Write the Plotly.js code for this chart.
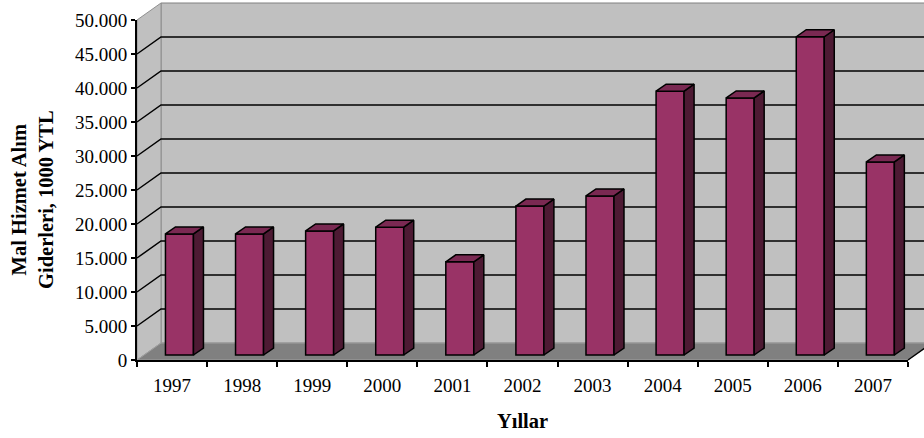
<!DOCTYPE html>
<html><head><meta charset="utf-8">
<script src="https://cdn.plot.ly/plotly-3.0.1.min.js"></script>
<style>html,body{margin:0;padding:0;background:#fff;overflow:hidden}</style>
</head><body><div id="chart" style="width:924px;height:438px"></div>
<script>
const categories = ["1997","1998","1999","2000","2001","2002","2003","2004","2005","2006","2007"];
const giderler = [17800,17800,18250,18800,13700,21900,23400,38800,37800,46800,28400];
const yTickValues = [0,5000,10000,15000,20000,25000,30000,35000,40000,45000,50000];
const yTickLabels = ["0","5.000","10.000","15.000","20.000","25.000","30.000","35.000","40.000","45.000","50.000"];
const xTitle = "Yıllar";
const yTitle = "Mal Hizmet Alım<br>Giderleri, 1000 YTL";

const M = {l:137, r:16, t:20, b:78};
const W = 924, H = 438;
const plotW = W-M.l-M.r, plotH = H-M.t-M.b;
const unitX = plotW/categories.length;      // px per category
const unitY = plotH/50000;                  // px per value unit
const wallDX = 24, wallDY = 17;             // depth of the back wall, px
const barDX = 10, barDY = 7;                // depth of one bar, px
const barBase = 5/unitY;
const barLeft = -6.6/unitX, barW = 28/unitX;
const px = x => (x-M.l)/plotW;
const py = y => (H-M.b-y)/plotH;
const vy = v => H-M.b-v*unitY;
const poly = pts => "M"+pts.map(p=>px(p[0])+","+py(p[1])).join("L")+"Z";
const x0=M.l, x1=W-M.r, y0=vy(0), yT=vy(50000);

const shapes = [
 {type:"path",xref:"paper",yref:"paper",layer:"below",path:poly([[x0+wallDX,yT-wallDY],[x1+wallDX,yT-wallDY],[x1+wallDX,y0-wallDY],[x0+wallDX,y0-wallDY]]),fillcolor:"#C0C0C0",line:{color:"#808080",width:1}},
 {type:"path",xref:"paper",yref:"paper",layer:"below",path:poly([[x0,yT],[x0+wallDX,yT-wallDY],[x0+wallDX,y0-wallDY],[x0,y0]]),fillcolor:"#C0C0C0",line:{color:"#909090",width:1}},
 {type:"path",xref:"paper",yref:"paper",layer:"below",path:poly([[x0,y0],[x0+wallDX,y0-wallDY],[x1+wallDX,y0-wallDY],[x1,y0]]),fillcolor:"#808080",line:{color:"#A0A0A0",width:1}}
];
yTickValues.slice(1,-1).forEach(v=>{
  const y=vy(v);
  shapes.push({type:"path",xref:"paper",yref:"paper",layer:"below",
    path:"M"+px(x0)+","+py(y)+"L"+px(x0+wallDX)+","+py(y-wallDY)+"L"+px(x1+wallDX)+","+py(y-wallDY),
    line:{color:"#000",width:1.5}});
});
shapes.push({type:"path",xref:"paper",yref:"paper",layer:"below",
    path:"M"+px(x1)+","+py(y0)+"L"+px(x1+wallDX)+","+py(y0-wallDY),line:{color:"#000",width:1.5}});

const idx = categories.map((_,i)=>i);
const edges = [-0.5].concat(idx.map(i=>i+0.5));
const dx = barDX/unitX, dy = barDY/unitY;
const traces = [{type:"bar",x:idx,y:giderler,base:idx.map(()=>barBase),width:barW,offset:barLeft,
  marker:{color:"#993366",line:{color:"#000",width:1.5}},hoverinfo:"skip",showlegend:false}];
giderler.forEach((v,i)=>{
  const L=i+barLeft, R=L+barW, B=barBase, T=barBase+v;
  traces.push({type:"scatter",mode:"lines",x:[R,R+dx,R+dx,R,R],y:[B,B+dy,T+dy,T,B],fill:"toself",fillcolor:"#4D1A33",
    line:{color:"#000",width:1.5},cliponaxis:false,hoverinfo:"skip",showlegend:false});
  traces.push({type:"scatter",mode:"lines",x:[L,L+dx,R+dx,R,L],y:[T,T+dy,T+dy,T,T],fill:"toself",fillcolor:"#7A2952",
    line:{color:"#000",width:1.5},cliponaxis:false,hoverinfo:"skip",showlegend:false});
});

const font = {family:"Liberation Serif",size:19,color:"#000"};
const titleFont = {family:"Liberation Serif",size:20.5,color:"#000"};
Plotly.newPlot("chart",traces,{
  width:W,height:H,margin:M,paper_bgcolor:"#fff",plot_bgcolor:"rgba(0,0,0,0)",showlegend:false,bargap:0,
  xaxis:{range:[-0.5,categories.length-0.5],tickmode:"array",tickvals:idx,ticktext:categories,
    showgrid:false,zeroline:false,showline:true,linecolor:"#000",linewidth:2,ticks:"",tickfont:font,ticklabelstandoff:7,
    minor:{tickmode:"array",tickvals:edges,ticks:"outside",ticklen:5,tickwidth:2,tickcolor:"#000",showgrid:false},
    title:{text:"<b>"+xTitle+"</b>",font:titleFont,standoff:19}},
  yaxis:{range:[0,50000],tickmode:"array",tickvals:yTickValues,ticktext:yTickLabels,showgrid:false,zeroline:false,
    showline:true,linecolor:"#000",linewidth:2,ticks:"outside",ticklen:4,tickwidth:2,tickcolor:"#000",tickfont:font},
  shapes:shapes,
  annotations:[{xref:"paper",yref:"paper",x:px(32),y:py(200),text:"<b>"+yTitle+"</b>",textangle:-90,showarrow:false,
    font:titleFont,xanchor:"center",yanchor:"middle",align:"center"}]
},{displayModeBar:false,staticPlot:true});
</script></body></html>
